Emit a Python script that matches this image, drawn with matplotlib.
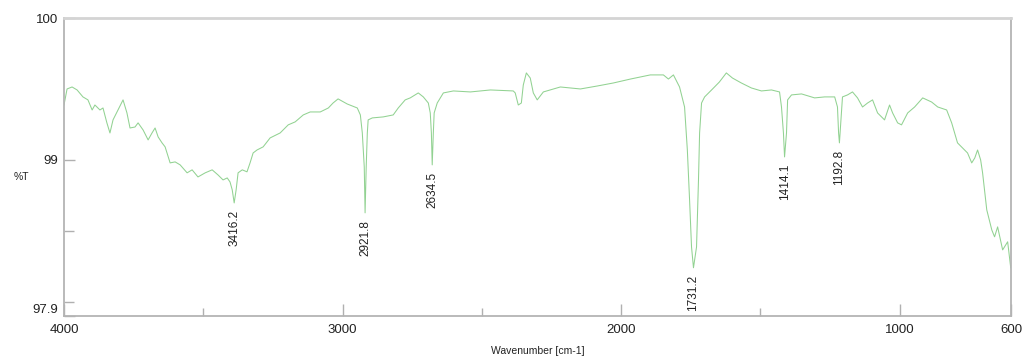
"""
IR spectrum (%T vs wavenumber) with labelled absorption peaks
"""

import matplotlib
matplotlib.use("Agg")
import matplotlib.pyplot as plt
from matplotlib.ticker import FixedLocator

# spectrum, wavenumber in cm-1, transmittance in %
wavenumber = [
    4000, 3989, 3971, 3953, 3932, 3914, 3899, 3889, 3871, 3860, 3846, 3835,
    3824, 3806, 3788, 3774, 3763, 3745, 3734, 3716, 3698, 3684, 3673, 3662,
    3648, 3637, 3619, 3601, 3583, 3558, 3540, 3519, 3493, 3468, 3447, 3429,
    3414, 3404, 3396, 3389, 3382, 3375, 3360, 3343, 3332, 3321, 3307, 3285,
    3260, 3224, 3195, 3170, 3141, 3116, 3080, 3051, 3034, 3016, 2983, 2947,
    2936, 2929, 2922, 2919, 2915, 2911, 2908, 2893, 2854, 2818, 2800, 2775,
    2757, 2728, 2710, 2692, 2685, 2681, 2678, 2674, 2671, 2660, 2638, 2602,
    2541, 2469, 2387, 2380, 2369, 2358, 2351, 2340, 2326, 2315, 2301, 2279,
    2218, 2146, 2085, 2028, 1966, 1895, 1848, 1830, 1812, 1790, 1772, 1762,
    1754, 1747, 1740, 1729, 1722, 1718, 1711, 1700, 1675, 1647, 1622, 1600,
    1568, 1532, 1496, 1460, 1431, 1424, 1417, 1413, 1406, 1402, 1388, 1352,
    1305, 1269, 1233, 1223, 1219, 1216, 1208, 1205, 1187, 1169, 1151, 1133,
    1115, 1097, 1079, 1054, 1036, 1025, 1007, 993, 971, 946, 917, 885,
    863, 831, 813, 792, 774, 756, 741, 730, 720, 709, 702, 687,
    669, 659, 648, 630, 612, 601,
]
transmittance = [
    99.387, 99.500, 99.514, 99.493, 99.444, 99.423, 99.352, 99.387, 99.352, 99.366, 99.261, 99.190,
    99.282, 99.352, 99.423, 99.331, 99.225, 99.232, 99.261, 99.211, 99.141, 99.190, 99.225, 99.162,
    99.120, 99.092, 98.979, 98.986, 98.965, 98.909, 98.930, 98.880, 98.909, 98.930, 98.894, 98.859,
    98.873, 98.845, 98.789, 98.697, 98.789, 98.909, 98.930, 98.916, 98.979, 99.049, 99.070, 99.092,
    99.155, 99.190, 99.247, 99.268, 99.317, 99.338, 99.338, 99.366, 99.401, 99.430, 99.394, 99.366,
    99.317, 99.190, 98.951, 98.627, 98.951, 99.190, 99.282, 99.296, 99.303, 99.317, 99.366, 99.423,
    99.437, 99.472, 99.444, 99.401, 99.331, 99.190, 98.965, 99.190, 99.331, 99.401, 99.472, 99.486,
    99.479, 99.493, 99.486, 99.472, 99.387, 99.401, 99.528, 99.613, 99.577, 99.472, 99.423, 99.479,
    99.514, 99.500, 99.521, 99.542, 99.570, 99.599, 99.599, 99.570, 99.599, 99.514, 99.373, 99.070,
    98.718, 98.387, 98.240, 98.387, 98.859, 99.190, 99.401, 99.444, 99.493, 99.549, 99.613, 99.577,
    99.542, 99.507, 99.486, 99.493, 99.479, 99.373, 99.190, 99.021, 99.190, 99.423, 99.458, 99.465,
    99.437, 99.444, 99.444, 99.373, 99.190, 99.120, 99.352, 99.444, 99.458, 99.479, 99.437, 99.373,
    99.401, 99.423, 99.331, 99.282, 99.387, 99.331, 99.261, 99.247, 99.331, 99.373, 99.437, 99.408,
    99.373, 99.352, 99.261, 99.120, 99.085, 99.049, 98.979, 99.014, 99.070, 99.000, 98.909, 98.648,
    98.507, 98.458, 98.528, 98.366, 98.423, 98.240,
]

# peak picks: where the dip sits in the plot, and the label printed under it
peak_wn = [3389, 2919, 2678, 1740, 1413, 1216]
peak_t = [98.697, 98.627, 98.965, 98.240, 99.021, 99.120]
peak_labels = ["3416.2", "2921.8", "2634.5", "1731.2", "1414.1", "1192.8"]

x_major = [4000, 3000, 2000, 1000, 600]
x_minor = [3500, 2500, 1500]
y_major = [97.9, 99, 100]
y_minor = [98.0, 98.5]

plt.rcParams['font.family'] = ['Liberation Sans', 'DejaVu Sans']

fig = plt.figure(figsize=(10.24, 3.58), dpi=100)
ax = fig.add_axes([0.0625, 0.1173, 0.9248, 0.8324])

ax.plot(wavenumber, transmittance, color='#92d292', linewidth=0.75)

for wn, t, lab in zip(peak_wn, peak_t, peak_labels):
    ax.annotate(lab, (wn, t), xytext=(0, -5), textcoords='offset points',
                rotation=90, ha='center', va='top', fontsize=8.5, color='#222222')

ax.set_xlim(4000, 600)
ax.set_ylim(97.9, 100)

ax.xaxis.set_major_locator(FixedLocator(x_major))
ax.xaxis.set_minor_locator(FixedLocator(x_minor))
ax.yaxis.set_major_locator(FixedLocator(y_major))
ax.yaxis.set_minor_locator(FixedLocator(y_minor))
ax.set_xticklabels([str(v) for v in x_major])
ax.set_yticklabels(["97.9", "99", "100"])
# bottom y label sits a little above the corner, as in the original
ax.get_yticklabels()[0].set_va('bottom')

ax.tick_params(axis='both', which='both', direction='in', color='#b0b0b0',
               labelsize=9.5, labelcolor='#222222', width=1)
ax.tick_params(axis='x', which='major', length=9, pad=6)
ax.tick_params(axis='x', which='minor', length=6)
ax.tick_params(axis='y', which='major', length=8, pad=4)
ax.tick_params(axis='y', which='minor', length=7)

for side in ['left', 'bottom', 'right']:
    ax.spines[side].set_color('#b4b4b4')
    ax.spines[side].set_linewidth(1.3)
ax.spines['top'].set_color('#d4d4d4')
ax.spines['top'].set_linewidth(2)

ax.set_xlabel('Wavenumber [cm-1]', fontsize=7.5, color='#222222', labelpad=7)
ax.set_ylabel('%T', fontsize=7.5, color='#222222', rotation=0)
ax.yaxis.set_label_coords(-0.045, 0.45)

fig.savefig('out.png', dpi=100)
plt.close(fig)
